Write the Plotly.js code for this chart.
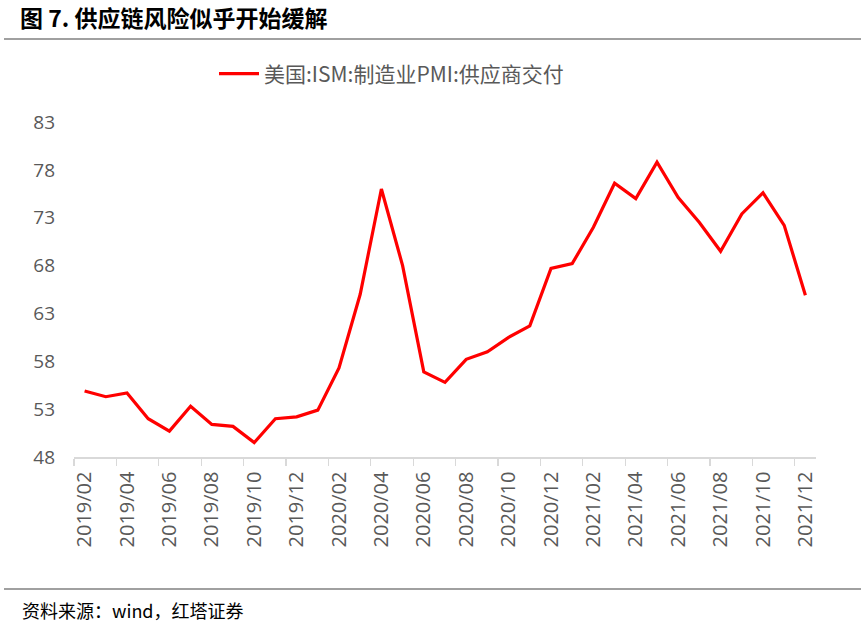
<!DOCTYPE html>
<html>
<head>
<meta charset="utf-8">
<script src="https://cdn.plot.ly/plotly-3.0.1.min.js"></script>
<style>html,body{margin:0;padding:0;background:#fff;}#chart{width:865px;height:628px;}</style>
</head>
<body>
<div id="chart"></div>
<script>
const months = ["2019/02","2019/03","2019/04","2019/05","2019/06","2019/07","2019/08","2019/09","2019/10","2019/11","2019/12",
"2020/01","2020/02","2020/03","2020/04","2020/05","2020/06","2020/07","2020/08","2020/09","2020/10","2020/11","2020/12",
"2021/01","2021/02","2021/03","2021/04","2021/05","2021/06","2021/07","2021/08","2021/09","2021/10","2021/11","2021/12"];
const supplierDeliveries = [54.9,54.3,54.7,52.0,50.7,53.3,51.4,51.2,49.5,52.0,52.2,
52.9,57.3,65.0,76.0,68.0,56.9,55.8,58.2,59.0,60.5,61.7,67.7,
68.2,72.0,76.6,75.0,78.8,75.1,72.5,69.5,73.4,75.6,72.2,64.9];
const seriesName = "美国:ISM:制造业PMI:供应商交付";
const yTicks = [48,53,58,63,68,73,78,83];
const titleText = "图 7. 供应链风险似乎开始缓解";
const sourceText = "资料来源：wind，红塔证券";

const W = 865, H = 628, L = 74, R = 816, T = 122, B = 457;
const px = x => (x - L) / (R - L);
const py = y => (B - y) / (B - T);

const trace = {
  x: months, y: supplierDeliveries, name: seriesName,
  type: "scatter", mode: "lines",
  line: {color: "#ff0000", width: 3.2}
};

const layout = {
  width: W, height: H,
  margin: {l: L, r: W - R, t: T, b: H - B, pad: 0},
  paper_bgcolor: "#ffffff", plot_bgcolor: "#ffffff",
  showlegend: true,
  legend: {orientation: "h", x: px(214), xanchor: "left", y: py(74), yanchor: "middle",
    font: {family: "Noto Sans CJK SC, sans-serif", size: 21, color: "#595959"},
    bgcolor: "rgba(0,0,0,0)", itemwidth: 40},
  title: {text: "<b>" + titleText + "</b>", x: 20 / W, xref: "container", xanchor: "left",
    y: 1 - 19 / H, yref: "container", yanchor: "middle",
    font: {family: "Noto Sans CJK SC, sans-serif", size: 23, color: "#000000"}},
  xaxis: {
    type: "category", range: [-0.5, months.length - 0.5],
    tickmode: "linear", tick0: 0, dtick: 2, tickson: "boundaries",
    ticks: "outside", ticklen: 7, tickcolor: "#d9d9d9", tickwidth: 1.3,
    showline: true, linecolor: "#d9d9d9", linewidth: 1.5,
    showgrid: false, zeroline: false, tickangle: -90,
    ticklabelstandoff: 5,
    tickfont: {family: "Open Sans, sans-serif", size: 20, color: "#595959"},
    fixedrange: true
  },
  yaxis: {
    range: [48, 83], tickmode: "array", tickvals: yTicks, ticktext: yTicks.map(String),
    showline: false, showgrid: false, zeroline: false, ticks: "",
    ticklabelstandoff: 18,
    tickfont: {family: "Open Sans, sans-serif", size: 19, color: "#595959"},
    fixedrange: true
  },
  shapes: [
    {type: "line", xref: "paper", yref: "paper", x0: px(4), x1: px(861), y0: py(39), y1: py(39),
      line: {color: "#808080", width: 1.6}},
    {type: "line", xref: "paper", yref: "paper", x0: px(4), x1: px(861), y0: py(589), y1: py(589),
      line: {color: "#808080", width: 1.6}}
  ],
  annotations: [
    {text: sourceText, xref: "paper", yref: "paper", x: px(20), y: py(610), xanchor: "left", yanchor: "middle",
      showarrow: false, font: {family: "Noto Sans CJK SC, sans-serif", size: 18, color: "#000000"}}
  ]
};

Plotly.newPlot("chart", [trace], layout, {displayModeBar: false, staticPlot: true});
</script>
</body>
</html>
